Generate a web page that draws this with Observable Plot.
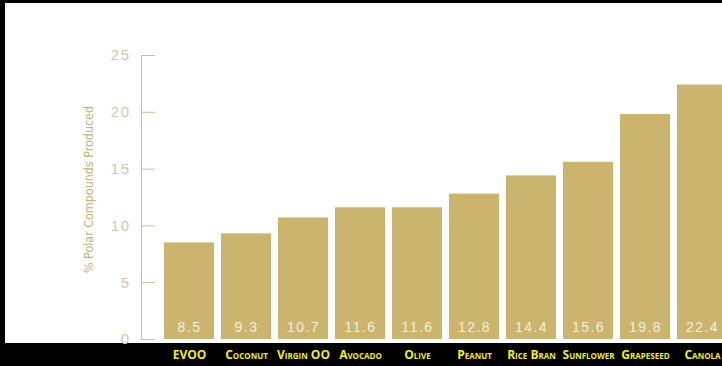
<!DOCTYPE html>
<html><head><meta charset="utf-8">
<script src="https://cdn.jsdelivr.net/npm/d3@7"></script>
<script src="https://cdn.jsdelivr.net/npm/@observablehq/plot@0.6"></script>
<style>
html,body{margin:0;padding:0;background:#000;width:722px;height:366px;overflow:hidden;}
#chart{position:absolute;left:5px;top:3px;width:745px;}
#chart svg{max-width:none !important;}
#chart svg g[aria-label="text"] text{letter-spacing:1.5px;}
#chart svg g[aria-label="y-axis tick label"] text{letter-spacing:1.5px;}
#chart svg g[aria-label="y-axis label"]{translate:0 -8px;}
</style></head><body><div id="chart"></div>
<script>
const categories = ["EVOO","Coconut","Virgin OO","Avocado","Olive","Peanut","Rice Bran","Sunflower","Grapeseed","Canola"];
const values = [8.5, 9.3, 10.7, 11.6, 11.6, 12.8, 14.4, 15.6, 19.8, 22.4];
const yTicks = [0, 5, 10, 15, 20, 25];
const yLabel = "% Polar Compounds Produced";

const data = categories.map((c, i) => ({oil: c, value: values[i]}));

const chart = Plot.plot({
  width: 745, height: 363,
  marginLeft: 136, marginRight: 0, marginTop: 52, marginBottom: 27,
  style: {background: "linear-gradient(to bottom, #fff 340px, #000 340px)", fontFamily: "'Liberation Sans', Arial, sans-serif", overflow: "visible", maxWidth: "none"},
  x: {domain: categories, paddingInner: 0.127, paddingOuter: 0.384, align: 0.5},
  y: {domain: [0, 25]},
  marks: [
    Plot.barY(data, {x: "oil", y: "value", fill: "#cbb56e"}),
    Plot.text(data, {x: "oil", y: 0, text: d => d.value.toFixed(1), dy: -12, fill: "#f3eede", fontSize: 14}),
    Plot.frame({anchor: "left", stroke: "#d0c28a", strokeOpacity: 1}),
    Plot.axisY(yTicks, {tickSize: -14, tickPadding: 25, stroke: "#d0c28a", fill: "#cfc8b0", fontSize: 15, label: null}),
    Plot.axisY({ticks: [], label: yLabel, labelAnchor: "center", labelArrow: "none", labelOffset: 57, fill: "#c4b374", fontSize: 12.4, fontFamily: "'DejaVu Sans Condensed', sans-serif"}),
    Plot.axisX({tickSize: 0, tickPadding: 11, fill: "#f5f000", fontWeight: "bold", fontSize: 12, fontFamily: "'Open Sans', sans-serif", fontVariant: "small-caps", label: null})
  ]
});
document.getElementById("chart").appendChild(chart);
</script></body></html>
